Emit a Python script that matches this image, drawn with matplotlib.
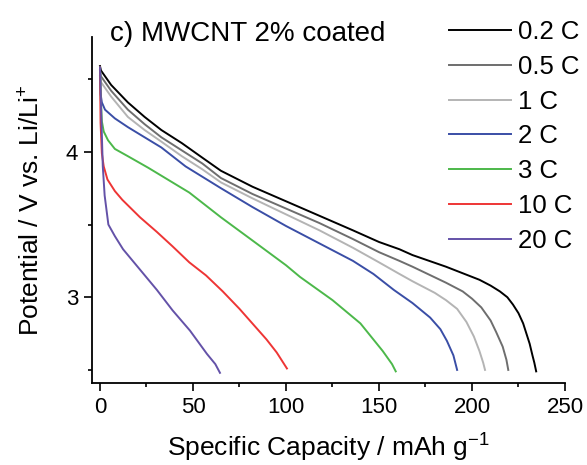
import matplotlib
matplotlib.use('Agg')
import matplotlib.pyplot as plt

plt.rcParams['font.family'] = ['Liberation Sans', 'DejaVu Sans']
plt.rcParams['mathtext.default'] = 'regular'

# discharge curves, capacity (mAh/g) vs potential (V)
cap_02 = [0, 0.5, 2.7, 6, 15, 24, 33, 44, 55, 65, 82, 100, 118, 136, 150, 161, 168, 186, 196, 204, 210, 215, 219, 222, 225, 227.5, 229.5, 231, 232.5, 233.5, 234.5]
pot_02 = [4.59, 4.56, 4.52, 4.46, 4.34, 4.24, 4.15, 4.06, 3.96, 3.87, 3.76, 3.66, 3.56, 3.46, 3.38, 3.33, 3.29, 3.21, 3.16, 3.12, 3.08, 3.04, 3.00, 2.95, 2.89, 2.82, 2.74, 2.68, 2.60, 2.55, 2.49]

cap_05 = [0, 0.5, 2.7, 6, 15, 24, 33, 44, 55, 65, 82, 100, 118, 136, 150, 161, 168, 186, 195, 200, 205, 210, 213, 216.5, 218.5, 219.5]
pot_05 = [4.56, 4.52, 4.48, 4.42, 4.29, 4.19, 4.10, 4.01, 3.92, 3.82, 3.71, 3.61, 3.51, 3.40, 3.31, 3.25, 3.21, 3.10, 3.04, 2.99, 2.93, 2.84, 2.76, 2.66, 2.57, 2.50]

cap_1 = [0, 0.5, 2.7, 6, 15, 24, 33, 44, 55, 65, 82, 100, 118, 136, 150, 161, 168, 180, 186, 192, 197, 201, 204, 206, 207]
pot_1 = [4.52, 4.48, 4.44, 4.38, 4.24, 4.15, 4.07, 3.97, 3.88, 3.79, 3.68, 3.57, 3.46, 3.34, 3.24, 3.16, 3.11, 3.03, 2.98, 2.92, 2.83, 2.73, 2.63, 2.55, 2.50]

cap_2 = [0, 0.3, 1, 2.7, 8, 15, 24, 33, 46, 65, 82, 100, 118, 136, 147, 158, 168, 177.5, 183, 186.5, 190, 192]
pot_2 = [4.58, 4.40, 4.34, 4.29, 4.23, 4.17, 4.10, 4.03, 3.90, 3.75, 3.62, 3.49, 3.37, 3.25, 3.16, 3.05, 2.96, 2.86, 2.78, 2.70, 2.60, 2.50]

cap_3 = [0, 0.5, 1, 2, 4.3, 8, 15, 26, 48, 65, 82, 100, 107.5, 125, 140, 152, 157, 159]
pot_3 = [4.58, 4.35, 4.21, 4.14, 4.08, 4.02, 3.97, 3.89, 3.72, 3.55, 3.39, 3.22, 3.14, 2.98, 2.82, 2.63, 2.54, 2.49]

cap_10 = [0, 0.3, 1, 2, 4, 8, 12, 21.5, 30.5, 39, 48, 57, 66, 75, 89.5, 95, 100.5]
pot_10 = [4.58, 4.20, 3.99, 3.90, 3.81, 3.73, 3.67, 3.55, 3.45, 3.35, 3.24, 3.15, 3.04, 2.92, 2.71, 2.62, 2.51]

cap_20 = [0, 0.8, 1.5, 2.5, 4.5, 8, 12.4, 21.5, 30.6, 39, 48.4, 57.5, 62, 64.5]
pot_20 = [4.58, 4.20, 3.90, 3.70, 3.50, 3.42, 3.33, 3.19, 3.05, 2.91, 2.77, 2.61, 2.54, 2.48]

rates = ['0.2 C', '0.5 C', '1 C', '2 C', '3 C', '10 C', '20 C']
caps = [cap_02, cap_05, cap_1, cap_2, cap_3, cap_10, cap_20]
pots = [pot_02, pot_05, pot_1, pot_2, pot_3, pot_10, pot_20]
colors = ['#000000', '#6e6e6e', '#b4b4b4', '#3a4ea6', '#4cb84a', '#ee3535', '#6452a8']

fig = plt.figure(figsize=(5.87, 4.65), dpi=100)
ax = fig.add_axes([92 / 587, 82 / 465, 473 / 587, 346 / 465])

for c, p, col, lab in zip(caps, pots, colors, rates):
    ax.plot(c, p, color=col, lw=1.4, label=lab)

ax.set_xlim(-4.3, 250)
ax.set_ylim(2.41, 4.79)
ax.set_xticks([0, 50, 100, 150, 200, 250])
ax.set_xticks([25, 75, 125, 175, 225], minor=True)
ax.set_yticks([3, 4])
ax.set_yticks([2.5, 3.5, 4.5], minor=True)

for s in ['top', 'right']:
    ax.spines[s].set_visible(False)
for s in ['left', 'bottom']:
    ax.spines[s].set_linewidth(1.3)

ax.tick_params(which='major', direction='out', length=6, width=1.2, labelsize=16, pad=4)
ax.tick_params(which='minor', direction='out', length=3, width=1.2)

ax.set_xlabel('Specific Capacity / mAh g$^{-1}$', fontsize=19, va='baseline')
ax.xaxis.set_label_coords(0.5, -0.212)
ax.set_ylabel('Potential / V vs. Li/Li$^{+}$', fontsize=19, labelpad=15)

ax.text(0.038, 1.01, 'c) MWCNT 2% coated', transform=ax.transAxes, fontsize=20,
        ha='left', va='center')

ax.legend(loc='upper left', bbox_to_anchor=(449 / 587, 1 - 20 / 465),
          bbox_transform=fig.transFigure, frameon=False, fontsize=18.5,
          handlelength=2.4, handletextpad=0.3, labelspacing=0.42,
          borderpad=0, borderaxespad=0)

fig.savefig('out.png', dpi=100)
